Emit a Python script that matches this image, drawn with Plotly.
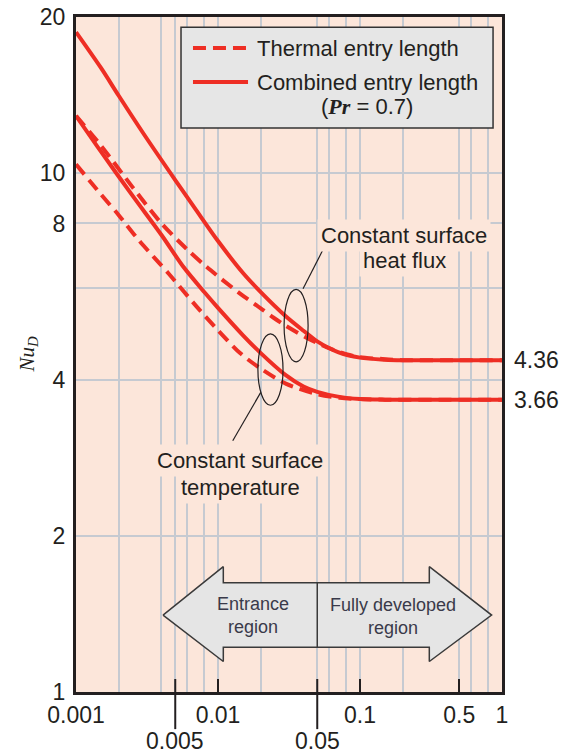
import math
import plotly.graph_objects as go

# ---------------- data ----------------
# Constant surface heat flux
hf_comb_x = [0.001, 0.0015, 0.002, 0.003, 0.005, 0.007, 0.01, 0.015, 0.02, 0.03, 0.04, 0.05, 0.07, 0.1, 0.15, 0.2, 0.5, 1.0]
hf_comb_y = [18.7, 15.95, 14.1, 11.9, 9.7, 8.5, 7.4, 6.42, 5.9, 5.3, 4.97, 4.74, 4.52, 4.41, 4.37, 4.36, 4.36, 4.36]
hf_therm_x = [0.001, 0.0015, 0.0025, 0.004, 0.006, 0.0083, 0.0143, 0.02, 0.0245, 0.03, 0.042, 0.058, 0.08, 0.1, 0.15, 0.2, 0.5, 1.0]
hf_therm_y = [12.9, 11.3, 9.4, 8.0, 7.15, 6.6, 5.86, 5.49, 5.27, 5.08, 4.82, 4.62, 4.48, 4.42, 4.38, 4.36, 4.36, 4.36]
# Constant surface temperature
ct_comb_x = [0.001, 0.0015, 0.0025, 0.004, 0.0057, 0.008, 0.01, 0.015, 0.02, 0.03, 0.04, 0.05, 0.07, 0.1, 0.15, 0.5, 1.0]
ct_comb_y = [12.9, 11.0, 9.05, 7.6, 6.6, 5.9, 5.5, 4.87, 4.5, 4.08, 3.88, 3.79, 3.71, 3.67, 3.66, 3.66, 3.66]
ct_therm_x = [0.001, 0.0015, 0.002, 0.0028, 0.0045, 0.007, 0.01, 0.0143, 0.02, 0.03, 0.05, 0.072, 0.1, 0.15, 0.5, 1.0]
ct_therm_y = [10.4, 9.1, 8.3, 7.4, 6.4, 5.55, 4.98, 4.5, 4.2, 3.93, 3.75, 3.69, 3.67, 3.66, 3.66, 3.66]

# fully developed values
nu_fd_hf = 4.36
nu_fd_ct = 3.66

# axis ticks
x_tickvals = [0.001, 0.01, 0.1, 0.5, 1]
x_ticktext = ["0.001", "0.01", "0.1", "0.5", "1"]
x_low_labels = [0.005, 0.05]
x_minor_grid = [0.002, 0.004, 0.005, 0.006, 0.008, 0.02, 0.05, 0.06, 0.08, 0.2, 0.6, 0.8]
y_tickvals = [1, 2, 4, 8, 10, 20]
y_ticktext = ["1", "2", "4", "8", "10", "20"]
y_minor_grid = [6]

# region arrow outline (data coordinates) and divider position
arrow_x = [0.0041, 0.0109, 0.0109, 0.3077, 0.3077, 0.845, 0.3077, 0.3077, 0.0109, 0.0109, 0.0041]
arrow_y = [1.407, 1.744, 1.624, 1.624, 1.744, 1.407, 1.145, 1.22, 1.22, 1.145, 1.407]
x_divide = 0.05

# ---------------- style ----------------
RED = "#ee2e24"
BG = "#fce6da"
GRID = "#c6cad1"
INK = "#231f20"
FONT = "Liberation Sans"
DASH = "13px,7px"

fig = go.Figure()

# region arrow
fig.add_trace(go.Scatter(x=arrow_x, y=arrow_y, mode="lines", fill="toself",
                         fillcolor="#e5e5e5", line=dict(color="#3a3a3a", width=1.5),
                         hoverinfo="skip", showlegend=False))

curve_specs = [
    ("Combined entry length, constant surface heat flux", hf_comb_x, hf_comb_y, "solid"),
    ("Thermal entry length, constant surface heat flux", hf_therm_x, hf_therm_y, DASH),
    ("Combined entry length, constant surface temperature", ct_comb_x, ct_comb_y, "solid"),
    ("Thermal entry length, constant surface temperature", ct_therm_x, ct_therm_y, DASH),
]
for name, xs, ys, dash in curve_specs:
    fig.add_trace(go.Scatter(x=xs, y=ys, mode="lines", name=name,
                             line=dict(color=RED, width=4, dash=dash, shape="spline", smoothing=0.8),
                             showlegend=False))

shapes = []
# divider in arrow
shapes.append(dict(type="line", xref="x", yref="y", x0=x_divide, x1=x_divide,
                   y0=arrow_y[8], y1=arrow_y[2], line=dict(color="#3a3a3a", width=1.5)))
# ellipses
shapes.append(dict(type="circle", xref="x", yref="y", x0=0.0292, x1=0.0431, y0=4.33, y1=5.97,
                   line=dict(color=INK, width=1.2)))
shapes.append(dict(type="circle", xref="x", yref="y", x0=0.0191, x1=0.0287, y0=3.57, y1=4.90,
                   line=dict(color=INK, width=1.2)))
# leader lines
shapes.append(dict(type="line", xref="x", yref="y", x0=0.0397, y0=5.99, x1=0.0546, y1=7.10,
                   line=dict(color=INK, width=1.2)))
shapes.append(dict(type="line", xref="x", yref="y", x0=0.02, y0=3.78, x1=0.0127, y1=3.05,
                   line=dict(color=INK, width=1.2)))
# ticks at 0.005 and 0.05: inside tick continuing down to the lower label row
for v in x_low_labels:
    shapes.append(dict(type="line", xref="x", yref="paper", x0=v, x1=v, y0=0.0193, y1=-0.055,
                       line=dict(color=INK, width=2)))
# legend box
shapes.append(dict(type="rect", xref="paper", yref="paper", x0=0.2465, x1=0.979, y0=0.8356, y1=0.985,
                   fillcolor="#e6e6e6", line=dict(color="#333333", width=1.5)))
shapes.append(dict(type="line", xref="paper", yref="paper", x0=0.2746, x1=0.4038, y0=0.954, y1=0.954,
                   line=dict(color=RED, width=4, dash=DASH)))
shapes.append(dict(type="line", xref="paper", yref="paper", x0=0.2746, x1=0.4038, y0=0.9037, y1=0.9037,
                   line=dict(color=RED, width=4)))

ann = []
tf = dict(family=FONT, size=22, color=INK)
ann.append(dict(xref="paper", yref="paper", x=0.4202, y=0.954, xanchor="left", yanchor="middle",
                text="Thermal entry length", showarrow=False, font=tf))
ann.append(dict(xref="paper", yref="paper", x=0.4202, y=0.9037, xanchor="left", yanchor="middle",
                text="Combined entry length", showarrow=False, font=tf))
ann.append(dict(xref="paper", yref="paper", x=0.683, y=0.8667, xanchor="center", yanchor="middle",
                text="(<span style='font-family:Liberation Serif'><b><i>Pr</i></b></span> = 0.7)",
                showarrow=False, font=tf))
# curve-group labels, one annotation per line so the line spacing matches
for txt, xv, yv in [("Constant surface", 0.204, 7.60), ("heat flux", 0.206, 6.80),
                    ("Constant surface", 0.0143, 2.79), ("temperature", 0.0143, 2.48)]:
    ann.append(dict(xref="x", yref="y", x=math.log10(xv), y=math.log10(yv), xanchor="center",
                    yanchor="middle", text=txt, showarrow=False, font=tf, bgcolor=BG, borderpad=3))
af = dict(family=FONT, size=18, color="#3a3a4a")
ann.append(dict(xref="x", yref="y", x=math.log10(0.0176), y=math.log10(1.405), xanchor="center", yanchor="middle",
                text="Entrance<br>region", showarrow=False, font=af))
ann.append(dict(xref="x", yref="y", x=math.log10(0.171), y=math.log10(1.395), xanchor="center", yanchor="middle",
                text="Fully developed<br>region", showarrow=False, font=af))
# fully developed values at right
for v in (nu_fd_hf, nu_fd_ct):
    ann.append(dict(xref="paper", yref="y", x=1, y=math.log10(v), xanchor="left", yanchor="middle",
                    xshift=10, text=f"{v:.2f}", showarrow=False, font=dict(family=FONT, size=23, color=INK)))
# lower row x labels
for v in x_low_labels:
    ann.append(dict(xref="x", yref="paper", x=math.log10(v), y=-0.0725, xanchor="center", yanchor="middle",
                    text=f"{v:g}", showarrow=False, font=dict(family=FONT, size=23, color=INK)))
# y-axis title
ann.append(dict(xref="paper", yref="paper", x=-0.115, y=0.5, xanchor="center", yanchor="middle",
                text="<i>Nu<sub>D</sub></i>", textangle=-90, showarrow=False,
                font=dict(family="Liberation Serif", size=21, color=INK)))

fig.update_layout(
    width=564, height=755,
    margin=dict(l=76, r=62, t=17, b=63),
    paper_bgcolor="white", plot_bgcolor=BG,
    shapes=shapes, annotations=ann,
    showlegend=False,
    font=dict(family=FONT, color=INK),
)
fig.update_xaxes(type="log", range=[-3, 0], tickvals=x_tickvals, ticktext=x_ticktext,
                 ticks="inside", ticklen=13, tickwidth=2, tickcolor=INK, automargin=False,
                 showline=True, linewidth=3, linecolor=INK, mirror=True,
                 showgrid=True, gridcolor=GRID, gridwidth=1.5, zeroline=False,
                 tickfont=dict(family=FONT, size=23, color=INK),
                 minor=dict(tickvals=x_minor_grid, showgrid=True, gridcolor=GRID, gridwidth=1.5, ticks=""))
fig.update_yaxes(type="log", range=[0, math.log10(20)], tickvals=y_tickvals, ticktext=y_ticktext,
                 ticks="", showline=True, linewidth=3, linecolor=INK, mirror=True, automargin=False,
                 showgrid=True, gridcolor=GRID, gridwidth=1.5, zeroline=False, ticklabelstandoff=3,
                 tickfont=dict(family=FONT, size=23, color=INK),
                 minor=dict(tickvals=y_minor_grid, showgrid=True, gridcolor=GRID, gridwidth=1.5, ticks=""))

fig.write_html("out.html")
